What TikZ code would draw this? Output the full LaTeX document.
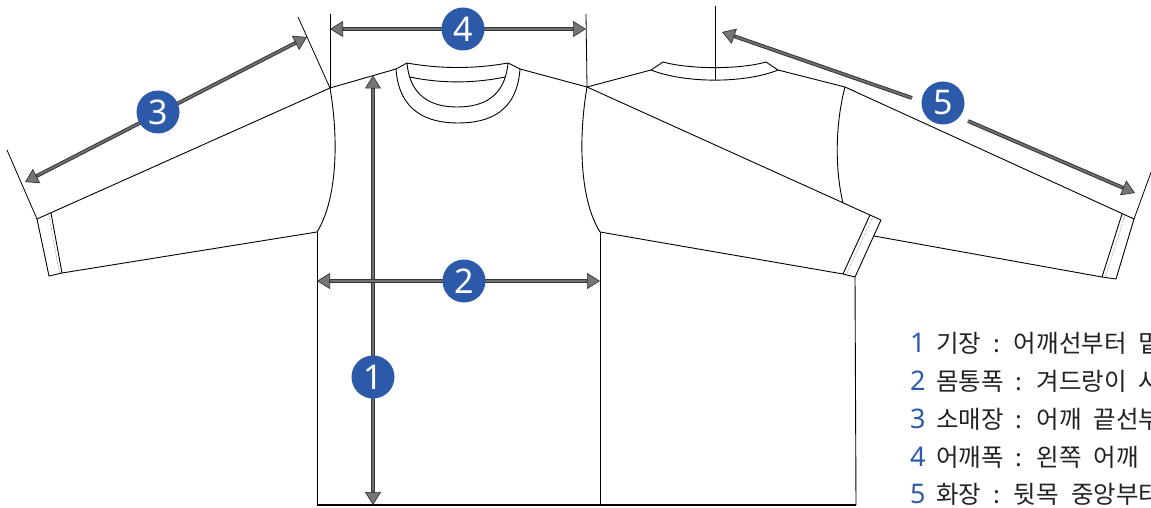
\documentclass[tikz,border=0pt]{standalone}
\usepackage{fontspec}
\setmainfont{Noto Sans}
\newfontfamily\krfont{Noto Sans CJK KR}
\usetikzlibrary{arrows.meta,calc}
\definecolor{numblue}{HTML}{2D5AA8}
\definecolor{shaftdark}{HTML}{363636}
\definecolor{shaftlight}{HTML}{707070}
\definecolor{tipfill}{HTML}{757575}
\definecolor{textgray}{HTML}{222222}
\newcommand\dimarrow[2]{%
  \draw[shaft, shorten <=12pt, shorten >=12pt] (#1) -- (#2);
  \draw[tiponly] ($(#1)!14pt!(#2)$) -- (#1);
  \draw[tiponly] ($(#2)!14pt!(#1)$) -- (#2);}
\newcommand\halfarrow[2]{%
  \draw[shaft, shorten >=12pt] (#1) -- (#2);
  \draw[tiponly] ($(#2)!14pt!(#1)$) -- (#2);}
\begin{document}
\begin{tikzpicture}[x=1pt,y=-1pt,
  garment/.style={black, line width=0.9pt, line join=round},
  hem/.style={black, line width=1.6pt},
  stitch/.style={densely dotted, line width=0.5pt, black!65},
  extline/.style={black, line width=0.8pt},
  shaft/.style={draw=shaftdark, line width=1pt, double=shaftlight, double distance=1.8pt},
  tiponly/.style={-{Triangle[length=13pt,width=16pt,fill=tipfill]}, draw=shaftdark, line width=0.7pt},
  badge/.style={circle, fill=numblue, minimum size=43pt, inner sep=0pt, text=white, font=\fontsize{34}{34}\selectfont},
  legnum/.style={anchor=base west, inner sep=0pt, text=numblue, font=\fontsize{27}{27}\selectfont},
  legtext/.style={anchor=base west, inner sep=0pt, text=textgray, font=\krfont\fontsize{24.5}{24.5}\selectfont}
]
\useasboundingbox (0,0) rectangle (1151,508);
\clip (0,0) rectangle (1151,508);
% ---------- coordinates ----------
\coordinate (LS) at (330,88);
\coordinate (RS) at (587,87);
\coordinate (NLo) at (396,69);
\coordinate (NLc) at (407,63);
\coordinate (NRc) at (508,63);
\coordinate (NRo) at (520,69);
\coordinate (LCo) at (37,219);
\coordinate (LCb) at (49,276);
\coordinate (LCit) at (51,213);
\coordinate (LCib) at (62,273);
\coordinate (LAp) at (317,232);
\coordinate (RAp) at (600,232);
\coordinate (BotL) at (317,505);
\coordinate (BotM) at (600,505);
\coordinate (BotR) at (856,505);
\coordinate (BNLo) at (651,70);
\coordinate (BNLc) at (663,62);
\coordinate (BNRc) at (766,62);
\coordinate (BNRo) at (778,70);
\coordinate (BRS) at (845,87);
\coordinate (BCt) at (715,6);
\coordinate (BCb) at (715,80);
\coordinate (OCo) at (881,220);
\coordinate (OCb) at (855,277);
\coordinate (OCit) at (870,215);
\coordinate (OCib) at (843,274);
\coordinate (RCo) at (1134,219);
\coordinate (RCb) at (1116,279);
\coordinate (RCit) at (1122,214);
\coordinate (RCib) at (1102,277);
\coordinate (RSb) at (874,236);
\coordinate (RAh) at (843,203);
% ---------- front ----------
\draw[garment] (LCo) -- (LS) -- (NLo) -- (NLc);
\draw[garment] (NRc) -- (NRo) -- (RS);
\draw[garment] (NLo) .. controls (399,112) and (428,123) .. (458,123) .. controls (489,123) and (517,112) .. (NRo);
\draw[garment] (NLc) .. controls (410,97) and (432,107) .. (457,107) .. controls (483,107) and (505,97) .. (NRc);
\draw[garment] (NLc) .. controls (440,69) and (475,69) .. (NRc);
\draw[garment] (410,77) .. controls (440,83.5) and (474,83.5) .. (505,77);
\draw[garment] (LS) .. controls (339,140) and (337,200) .. (LAp);
\draw[garment] (RS) .. controls (578,140) and (580,200) .. (RAp);
\draw[garment] (LAp) -- (BotL);
\draw[garment] (RAp) -- (BotM);
\draw[garment] (LCo) -- (LCb) -- (LCib) -- (LAp);
\draw[garment] (LCit) -- (LCib);
\draw[stitch] (48.5,213.5) -- (59.5,273.5);
% ---------- back ----------
\draw[garment] (RS) -- (BNLo) -- (BNLc);
\draw[garment] (BNRc) -- (BNRo) -- (BRS);
\draw[garment] (BNLc) .. controls (690,69.5) and (740,69.5) .. (BNRc);
\draw[garment] (BNLo) .. controls (685,83.5) and (745,83.5) .. (BNRo);
\draw[extline] (BCt) -- (BCb);
\draw[garment] (BRS) .. controls (835,125) and (835,170) .. (RAh);
\draw[garment] (RS) -- (OCo) -- (OCb) -- (OCib) -- (RAp);
\draw[garment] (OCit) -- (OCib);
\draw[stitch] (873,216.5) -- (846,275);
\draw[garment] (OCb) -- (BotR);
\draw[garment] (BRS) -- (RCo) -- (RCb) -- (RCib) -- (RSb);
\draw[garment] (RCit) -- (RCib);
\draw[stitch] (1125,215.5) -- (1105,277.5);
\draw[hem] (BotL) -- (BotR);
% ---------- extension lines ----------
\coordinate (E3a) at (7,150);
\coordinate (E3b) at (298,17);
\coordinate (E4a) at (330,14);
\coordinate (E4b) at (586,14);
\coordinate (E5) at (1153,167);
\draw[extline] (E3a) -- (LCo);
\draw[extline] (E3b) -- (LS);
\draw[extline] (E4a) -- (LS);
\draw[extline] (E4b) -- (RS);
\draw[extline] (RCo) -- (E5);
% ---------- dimension arrows ----------
\coordinate (A4a) at (330,29);
\coordinate (A4b) at (586,29);
\coordinate (A1a) at (373,75.5);
\coordinate (A1b) at (373,505);
\coordinate (A2a) at (317,281);
\coordinate (A2b) at (600,281);
\coordinate (A3a) at (25,182);
\coordinate (A3b) at (307,37);
\coordinate (A5a) at (722,32);
\coordinate (A5s) at (912,98);
\coordinate (A5t) at (968,121);
\coordinate (A5b) at (1135,193);
\dimarrow{A4a}{A4b}
\dimarrow{A1a}{A1b}
\dimarrow{A2a}{A2b}
\dimarrow{A3a}{A3b}
\halfarrow{A5s}{A5a}
\halfarrow{A5t}{A5b}
% ---------- badges ----------
\node[badge] (b4) at (463,29) {4};
\node[badge] (b1) at (373,377) {1};
\node[badge] (b2) at (464,281) {2};
\node[badge] (b3) at (158,112) {3};
\node[badge] (b5) at (943,103) {5};
% ---------- legend ----------
\node[legnum] (n1) at (910,352) {1};
\node[legtext] (t1) at (936,352) {\spaceskip=12pt 기장 : 어깨선부터 밑단까지};
\node[legnum] (n2) at (910,390) {2};
\node[legtext] (t2) at (936,390) {\spaceskip=12pt 몸통폭 : 겨드랑이 사이};
\node[legnum] (n3) at (910,428) {3};
\node[legtext] (t3) at (936,428) {\spaceskip=12pt 소매장 : 어깨 끝선부터 소매 끝까지};
\node[legnum] (n4) at (910,466) {4};
\node[legtext] (t4) at (936,466) {\spaceskip=12pt 어깨폭 : 왼쪽 어깨 끝부터 오른쪽 어깨 끝까지};
\node[legnum] (n5) at (910,503) {5};
\node[legtext] (t5) at (936,503) {\spaceskip=12pt 화장 : 뒷목 중앙부터 소매 끝까지};
\end{tikzpicture}
\end{document}
